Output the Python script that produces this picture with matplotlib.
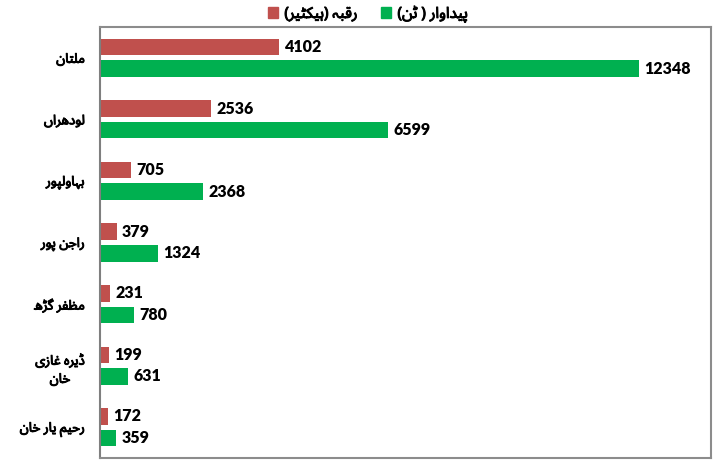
import matplotlib
matplotlib.use("Agg")
import matplotlib.pyplot as plt
import matplotlib.patheffects as pe
from matplotlib.patches import Patch
import numpy as np

# district names (Urdu), top to bottom
districts = ["ملتان", "لودھراں", "بہاولپور", "راجن پور", "مظفر گڑھ", "ڈیرہ غازی\nخان", "رحیم یار خان"]
area = [4102, 2536, 705, 379, 231, 199, 172]            # رقبہ (ہیکٹیر)
production = [12348, 6599, 2368, 1324, 780, 631, 359]   # پیداوار (ٹن)
area_label = "رقبہ (ہیکٹیر)"
production_label = "پیداوار ( ٹن)"

RED = "#C0504D"
GREEN = "#00B050"

# matplotlib has no Arabic shaping, so pick presentation forms by hand
# letter: (isolated, final, initial, medial); right-joining letters have only two
FORMS = {
    "ا": (0xFE8D, 0xFE8E), "ب": (0xFE8F, 0xFE90, 0xFE91, 0xFE92),
    "ت": (0xFE95, 0xFE96, 0xFE97, 0xFE98), "ج": (0xFE9D, 0xFE9E, 0xFE9F, 0xFEA0),
    "ح": (0xFEA1, 0xFEA2, 0xFEA3, 0xFEA4), "خ": (0xFEA5, 0xFEA6, 0xFEA7, 0xFEA8),
    "د": (0xFEA9, 0xFEAA), "ر": (0xFEAD, 0xFEAE), "ز": (0xFEAF, 0xFEB0),
    "ظ": (0xFEC5, 0xFEC6, 0xFEC7, 0xFEC8), "غ": (0xFECD, 0xFECE, 0xFECF, 0xFED0),
    "ف": (0xFED1, 0xFED2, 0xFED3, 0xFED4), "ق": (0xFED5, 0xFED6, 0xFED7, 0xFED8),
    "ل": (0xFEDD, 0xFEDE, 0xFEDF, 0xFEE0), "م": (0xFEE1, 0xFEE2, 0xFEE3, 0xFEE4),
    "ن": (0xFEE5, 0xFEE6, 0xFEE7, 0xFEE8), "و": (0xFEED, 0xFEEE),
    "پ": (0xFB56, 0xFB57, 0xFB58, 0xFB59), "ٹ": (0xFB66, 0xFB67, 0xFB68, 0xFB69),
    "ڈ": (0xFB88, 0xFB89), "ڑ": (0xFB8C, 0xFB8D),
    "ک": (0xFB8E, 0xFB8F, 0xFB90, 0xFB91), "گ": (0xFB92, 0xFB93, 0xFB94, 0xFB95),
    "ں": (0xFB9E, 0xFB9F), "ھ": (0xFBAA, 0xFBAB, 0xFBAC, 0xFBAD),
    "ہ": (0xFBA6, 0xFBA7, 0xFBA8, 0xFBA9), "ی": (0xFBFC, 0xFBFD, 0xFBFE, 0xFBFF),
}
MIRROR = {"(": ")", ")": "("}


def shape_line(s):
    out = []
    for i, ch in enumerate(s):
        if ch not in FORMS:
            out.append(MIRROR.get(ch, ch))
            continue
        f = FORMS[ch]
        prev = s[i - 1] if i > 0 else ""
        nxt = s[i + 1] if i + 1 < len(s) else ""
        join_prev = prev in FORMS and len(FORMS[prev]) == 4
        join_next = len(f) == 4 and nxt in FORMS
        if join_prev and join_next:
            cp = f[3]
        elif join_prev:
            cp = f[1]
        elif join_next:
            cp = f[2]
        else:
            cp = f[0]
        out.append(chr(cp))
    return "".join(reversed(out))


def rtl(s):
    return "\n".join(shape_line(line) for line in s.split("\n"))


urdu_font = ["Noto Sans Arabic", "DejaVu Sans"]
num_font = ["Lato", "DejaVu Sans"]
heavy = [pe.withStroke(linewidth=0.7, foreground="black")]

fig = plt.figure(figsize=(7.17, 4.62), dpi=100)
ax = fig.add_axes([100 / 717, 1 - 458 / 462, 611 / 717, 431 / 462])

y = np.arange(len(districts))
h = 0.27
bars_a = ax.barh(y - 0.175, area, height=h, color=RED)
bars_p = ax.barh(y + 0.175, production, height=h, color=GREEN)

for bars in (bars_a, bars_p):
    for b in bars:
        w = b.get_width()
        ax.annotate(f"{w:.0f}", (w, b.get_y() + b.get_height() / 2),
                    xytext=(4, 0), textcoords="offset points",
                    va="center", ha="left", fontsize=11.5, fontweight="heavy",
                    family=num_font, color="black")

ax.set_xlim(0, 14000)
ax.set_ylim(len(districts) - 0.5, -0.5)
ax.set_xticks([])
ax.set_yticks(y)
ax.set_yticklabels([rtl(d) for d in districts], family=urdu_font, fontsize=9.5,
                   multialignment="center", linespacing=1.5)
for t in ax.get_yticklabels():
    t.set_path_effects(heavy)
ax.tick_params(axis="y", length=0, pad=11)

for side in ("top", "right", "bottom"):
    ax.spines[side].set_color("#8c8c8c")
    ax.spines[side].set_linewidth(1.5)
ax.spines["left"].set_color("#7f7f7f")
ax.spines["left"].set_linewidth(1.5)

handles = [Patch(color=RED, label=rtl(area_label)),
           Patch(color=GREEN, label=rtl(production_label))]
leg = fig.legend(handles=handles, loc="center", ncol=2,
                 bbox_to_anchor=(368 / 717, 1 - 14 / 462), frameon=False,
                 prop={"family": urdu_font, "size": 11},
                 handlelength=0.7, handleheight=0.7, handletextpad=0.4,
                 columnspacing=1.5, borderaxespad=0)
for t in leg.get_texts():
    t.set_path_effects(heavy)

fig.savefig("out.png", dpi=100)
